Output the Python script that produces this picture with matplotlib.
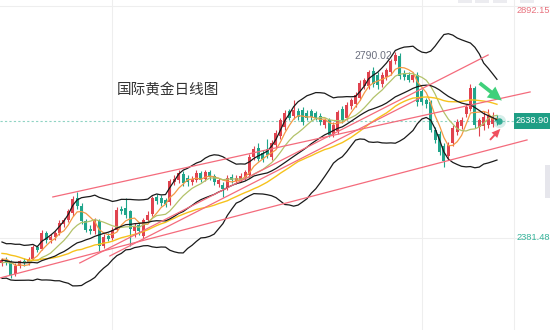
import numpy as np
import pandas as pd
import matplotlib
matplotlib.use("Agg")
import matplotlib.pyplot as plt
from matplotlib.patches import Rectangle, FancyArrowPatch

plt.rcParams['font.family'] = ['Liberation Sans', 'Noto Sans CJK SC', 'DejaVu Sans']

# daily candles, XAUUSD
opens = [2326, 2334, 2328, 2302, 2320, 2331, 2326, 2336, 2362, 2358,
         2392, 2376, 2384, 2392, 2412, 2420, 2436, 2470, 2452, 2418,
         2402, 2396, 2418, 2364, 2386, 2382, 2400, 2446, 2448, 2440,
         2396, 2410, 2386, 2420, 2434, 2472, 2470, 2464, 2460, 2504,
         2508, 2522, 2514, 2504, 2510, 2524, 2512, 2526, 2518, 2500,
         2498, 2492, 2516, 2506, 2510, 2516, 2520, 2560, 2580, 2568,
         2578, 2560, 2586, 2606, 2626, 2660, 2650, 2660, 2662, 2656,
         2660, 2656, 2650, 2630, 2640, 2610, 2616, 2666, 2646, 2672,
         2676, 2690, 2716, 2716, 2748, 2740, 2720, 2736, 2746, 2770,
         2782, 2744, 2740, 2730, 2740, 2704, 2684, 2680, 2620, 2610,
         2584, 2562, 2590, 2614, 2628, 2654, 2666, 2712, 2626, 2628,
         2630, 2632, 2645]
closes = [2334, 2328, 2300, 2320, 2330, 2326, 2336, 2362, 2356, 2392,
          2376, 2384, 2392, 2414, 2420, 2440, 2468, 2452, 2418, 2400,
          2396, 2420, 2364, 2384, 2380, 2400, 2444, 2440, 2432, 2402,
          2408, 2396, 2420, 2432, 2470, 2462, 2458, 2456, 2506, 2512,
          2524, 2502, 2504, 2512, 2524, 2510, 2526, 2516, 2504, 2508,
          2490, 2514, 2508, 2514, 2518, 2526, 2560, 2578, 2556, 2556,
          2564, 2590, 2612, 2640, 2656, 2646, 2662, 2648, 2636, 2646,
          2648, 2646, 2636, 2640, 2608, 2630, 2658, 2640, 2674, 2684,
          2696, 2722, 2728, 2746, 2720, 2718, 2740, 2750, 2770, 2785,
          2738, 2736, 2730, 2740, 2680, 2680, 2676, 2620, 2596, 2570,
          2550, 2586, 2624, 2636, 2640, 2670, 2712, 2630, 2640, 2648,
          2652, 2645, 2638.9]
highs = [2338, 2340, 2332, 2326, 2334, 2338, 2340, 2366, 2366, 2398,
         2396, 2390, 2396, 2420, 2426, 2446, 2474, 2483, 2458, 2424,
         2410, 2426, 2424, 2390, 2392, 2406, 2450, 2452, 2470, 2444,
         2414, 2416, 2426, 2440, 2474, 2478, 2476, 2470, 2512, 2520,
         2531, 2528, 2520, 2518, 2530, 2528, 2532, 2530, 2522, 2514,
         2504, 2520, 2522, 2520, 2524, 2532, 2566, 2584, 2590, 2574,
         2600, 2596, 2618, 2646, 2664, 2666, 2685, 2668, 2670, 2662,
         2666, 2660, 2656, 2646, 2646, 2636, 2664, 2672, 2680, 2690,
         2702, 2728, 2734, 2752, 2758, 2746, 2746, 2756, 2776, 2790.02,
         2788, 2750, 2746, 2746, 2746, 2710, 2690, 2686, 2626, 2616,
         2590, 2592, 2630, 2644, 2648, 2676, 2721, 2716, 2646, 2660,
         2666, 2658, 2652]
lows = [2320, 2322, 2294, 2298, 2316, 2320, 2322, 2332, 2350, 2354,
        2370, 2370, 2378, 2388, 2406, 2416, 2430, 2446, 2412, 2394,
        2390, 2390, 2353, 2360, 2374, 2378, 2396, 2434, 2426, 2364,
        2384, 2388, 2380, 2414, 2430, 2456, 2452, 2450, 2454, 2498,
        2502, 2496, 2496, 2498, 2504, 2504, 2506, 2510, 2498, 2494,
        2472, 2486, 2502, 2500, 2504, 2510, 2514, 2554, 2550, 2548,
        2558, 2554, 2580, 2600, 2620, 2640, 2644, 2640, 2630, 2640,
        2642, 2640, 2630, 2624, 2604, 2604, 2610, 2634, 2640, 2666,
        2670, 2684, 2710, 2710, 2714, 2710, 2714, 2730, 2740, 2764,
        2732, 2730, 2724, 2724, 2672, 2674, 2668, 2614, 2590, 2564,
        2536.7, 2556, 2584, 2608, 2622, 2648, 2660, 2624, 2605, 2620,
        2624, 2626, 2630]

# closes before the first drawn candle, only used to warm up the averages
lead_in_closes = [2309, 2346, 2360, 2336, 2358, 2386, 2376, 2415, 2425, 2421,
                  2379, 2329, 2334, 2351, 2361, 2338, 2343, 2327, 2350, 2327,
                  2355, 2376, 2294, 2311, 2316, 2324, 2303, 2333, 2319, 2329,
                  2328, 2361, 2322]

last_price = 2638.90
top_price = 2892.15
bottom_price = 2381.48
peak_price = 2790.02
title = "国际黄金日线图"

up_color = '#e0434f'
down_color = '#20a58b'

n = len(closes)
idx = np.arange(n)
o = np.array(opens)
c = np.array(closes)

full = pd.Series(lead_in_closes + closes)
k = len(lead_in_closes)
ma5 = full.rolling(5).mean().values[k:]
ma10 = full.rolling(10).mean().values[k:]
ma30 = full.rolling(30).mean().values[k:]
mid = full.rolling(20).mean()
sd = full.rolling(20).std(ddof=0)
boll_up = (mid + 2 * sd).values[k:]
boll_dn = (mid - 2 * sd).values[k:]
boll_mid = mid.values[k:]

fig = plt.figure(figsize=(5.5, 3.3), dpi=100)
ax = fig.add_axes([0, 0, 1, 1])
ax.set_xlim(-0.45, 124.0)
ax.set_ylim(2179, 2905)
ax.axis('off')

# grid
for gx in [25, 95]:
    ax.axvline(gx, color='#eeeeee', lw=0.8, zorder=0)
for gy in [top_price, bottom_price]:
    ax.axhline(gy, color='#eeeeee', lw=0.8, zorder=0)
ax.axvline(115.8, color='#eeeeee', lw=0.8, zorder=0)
ax.axhline(last_price, color='#8fd3c3', lw=0.8, ls=(0, (2, 2)), zorder=1)

# candles
up = c >= o
colors = np.where(up, up_color, down_color)
ax.vlines(idx, lows, highs, colors=colors, lw=0.8, zorder=3)
body = np.where(np.abs(c - o) < 1.5, 1.5, c - o)
ax.bar(idx, body, bottom=o, width=0.68, color=colors, lw=0, zorder=3)

# averages and bands
ax.plot(idx, ma5, color='#f59a45', lw=0.9, zorder=4)
ax.plot(idx, ma10, color='#b3c26a', lw=0.9, zorder=4)
ax.plot(idx, ma30, color='#f6c21c', lw=1.0, zorder=4)
for band in (boll_up, boll_mid, boll_dn):
    ax.plot(idx, band, color='#1a1a1a', lw=0.9, zorder=4)

# trend lines
trend_lines = [
    ((11.5, 2471.7), (119.5, 2702.7)),
    ((-0.45, 2293.5), (118.8, 2597.1)),
    ((17.6, 2326.5), (110.0, 2784.1)),
    ((24.4, 2341.9), (94.6, 2689.5)),
]
for (x0, y0), (x1, y1) in trend_lines:
    ax.plot([x0, x1], [y0, y1], color='#f46b7c', lw=0.9, zorder=5)

# arrows
ax.add_patch(FancyArrowPatch((107.6, 2726.0), (113.6, 2680.0),
                             arrowstyle='simple,head_width=1.1,head_length=1.1,tail_width=0.3',
                             mutation_scale=9, color='#3fd07a', lw=0, zorder=6))
ax.add_patch(FancyArrowPatch((110.0, 2592.7), (113.2, 2626.0),
                             arrowstyle='simple,head_width=0.8,head_length=0.9,tail_width=0.2',
                             mutation_scale=7, color='#f0505f', lw=0, zorder=6))

# last price marker
ax.scatter([n - 1 + 0.4], [last_price], s=90, color='#20a58b', alpha=0.18, lw=0, zorder=6)
ax.scatter([n - 1 + 0.4], [last_price], s=22, color='#20a58b', alpha=0.9, lw=0, zorder=7)

# labels
peak_i = int(np.argmax(highs))
ax.annotate(f"{peak_price:.2f}", (peak_i - 0.6, peak_price), xytext=(0, -3),
            textcoords='offset points', ha='right', va='center',
            fontsize=7.5, color='#6b6f7e', zorder=8)
ax.text(26.0, 2707, title, fontsize=10.5, color='#333333', ha='left', va='center',
        family=['Noto Sans CJK SC', 'DejaVu Sans'], zorder=8)

ax.text(116.5, top_price, f"{top_price:.2f}", fontsize=6.7, color='#e8727e',
        ha='left', va='top', zorder=8)
ax.text(116.5, bottom_price, f"{bottom_price:.2f}", fontsize=6.7, color='#35b39a',
        ha='left', va='center', zorder=8)
ax.add_patch(Rectangle((115.8, last_price - 17), 10, 34, color='#1f9e85', lw=0, zorder=8))
ax.text(116.3, last_price, f"{last_price:.2f}", fontsize=6.7, color='white',
        ha='left', va='center', zorder=9)

# toolbar bits at the top and the side tab
for bx in [458, 475, 493, 520]:
    fig.patches.append(Rectangle((bx / 550, 1 - 3 / 330), 14 / 550, 3 / 330,
                                 transform=fig.transFigure, color='#ececf0', lw=0))
fig.patches.append(Rectangle((545 / 550, 1 - 198 / 330), 5 / 550, 33 / 330,
                             transform=fig.transFigure, color='#e6e6ec', lw=0))

fig.savefig('out.png', dpi=100)
